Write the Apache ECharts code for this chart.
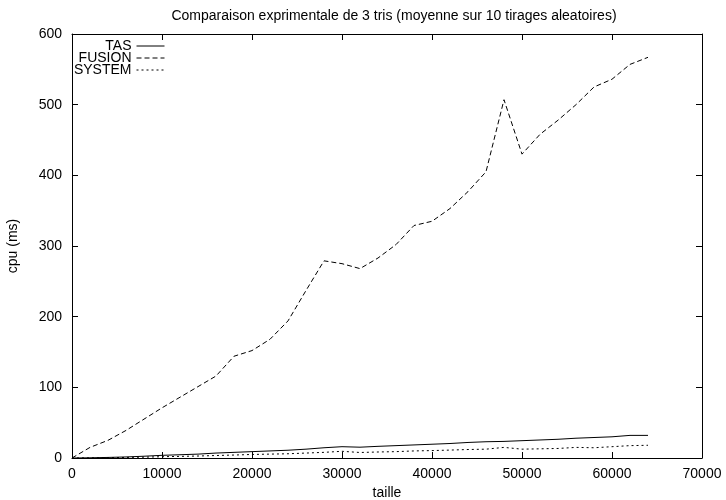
<!DOCTYPE html>
<html>
<head>
<meta charset="utf-8">
<script src="https://cdn.jsdelivr.net/npm/echarts@6/dist/echarts.min.js"></script>
<style>
html,body{margin:0;padding:0;background:#fff;}
#c{width:726px;height:500px;}
</style>
</head>
<body>
<div id="c"></div>
<script>
var tailles = [0,2000,4000,6000,8000,10000,12000,14000,16000,18000,20000,22000,24000,26000,28000,30000,32000,34000,36000,38000,40000,42000,44000,46000,48000,50000,52000,54000,56000,58000,60000,62000,64000];
var tas = [0,0.3,0.8,1.5,2.5,3.8,4.6,5.5,7,8,9,10,11,12.5,14.5,16,15.3,16.5,17.5,18.5,19.5,20.5,22,23,23.5,24.5,25.5,26.5,28,29,30,32,32];
var fusion = [0,15,25,39,55,71,86,101,116,144,152,168,194,237,279,275,268,283,302,329,335,353,377,405,507,430,458,478,500,525,536,557,567];
var systeme = [0,0.2,0.5,0.8,1.2,1.8,2.3,2.8,3.5,4.2,5,5.5,6,7,8,9.5,7.8,8.5,9,10,10.5,11.2,12,12.5,15,12.5,13,13.5,15,14.5,16,17.5,18];
var seriesNames = ['TAS','FUSION','SYSTEM'];
var titleText = 'Comparaison exprimentale de 3 tris (moyenne sur 10 tirages aleatoires)';

function pairs(xs, ys){ return xs.map(function(x,i){ return [x, ys[i]]; }); }

var font = '"Liberation Sans", Arial, Helvetica, sans-serif';
var FS = 14;
var chart = echarts.init(document.getElementById('c'), null, {renderer:'canvas'});
var axisBase = {
  type:'value',
  axisLine:{show:true, onZero:false, lineStyle:{color:'#000', width:1}},
  axisTick:{show:true, inside:true, length:6, lineStyle:{color:'#000'}},
  splitLine:{show:false},
  axisLabel:{color:'#000', fontSize:FS, fontFamily:font}
};
function mk(extra){ return Object.assign({}, JSON.parse(JSON.stringify(axisBase)), extra); }

var legends = seriesNames.map(function(n, i){
  return {
    data:[n], orient:'horizontal', right:561, top:39 + i*12, align:'right',
    itemWidth:28, itemHeight:12, itemGap:0, padding:0,
    itemStyle:{opacity:0},
    lineStyle:{width:1},
    textStyle:{fontSize:FS, color:'#000', fontFamily:font, lineHeight:12},
    selectedMode:false
  };
});

chart.setOption({
  animation:false,
  backgroundColor:'#fff',
  textStyle:{fontFamily:font},
  title:{text:titleText, left:389, textAlign:'center', top:4,
    textStyle:{fontSize:FS, fontWeight:'normal', color:'#000', fontFamily:font}},
  legend:legends,
  grid:{left:72, right:24, top:34, bottom:42, containLabel:false, outerBoundsMode:'none'},
  xAxis:[
    mk({min:0, max:70000, interval:10000, position:'bottom', name:'taille', nameLocation:'middle', nameGap:28,
      nameTextStyle:{fontSize:FS, color:'#000', fontFamily:font},
      axisLabel:{color:'#000', fontSize:FS, fontFamily:font, margin:9, formatter:function(v){return String(v);}}}),
    mk({min:0, max:70000, interval:10000, position:'top', axisLabel:{show:false}})
  ],
  yAxis:[
    mk({min:0, max:600, interval:100, position:'left', name:'cpu (ms)', nameLocation:'middle', nameGap:52,
      nameTextStyle:{fontSize:FS, color:'#000', fontFamily:font}, axisLabel:{color:'#000', fontSize:FS, fontFamily:font, margin:10}}),
    mk({min:0, max:600, interval:100, position:'right', axisLabel:{show:false}})
  ],
  series:[
    {name:'TAS', type:'line', data:pairs(tailles, tas), symbol:'none', color:'#000',
      lineStyle:{color:'#000', width:1, type:'solid'}},
    {name:'FUSION', type:'line', data:pairs(tailles, fusion), symbol:'none', color:'#000',
      lineStyle:{color:'#000', width:1, type:[5,3]}},
    {name:'SYSTEM', type:'line', data:pairs(tailles, systeme), symbol:'none', color:'#000',
      lineStyle:{color:'#000', width:1, type:[2,3]}}
  ]
});
</script>
</body>
</html>
